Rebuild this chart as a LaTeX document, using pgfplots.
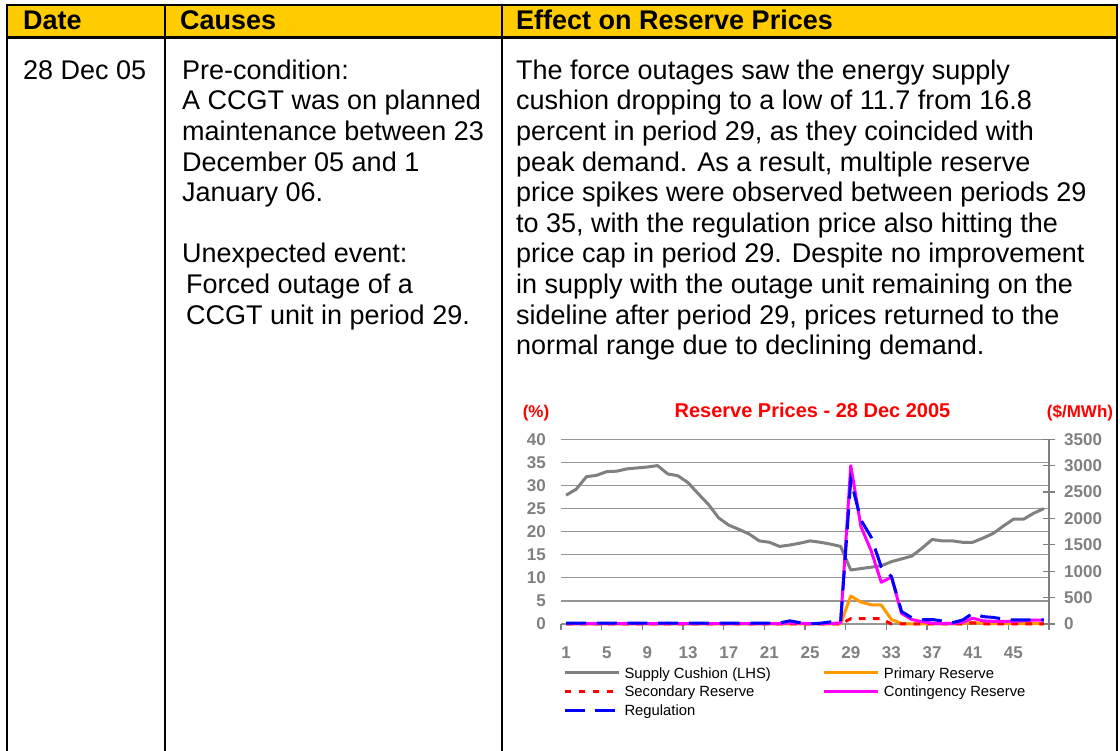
\documentclass[border=0pt]{standalone}
\usepackage{fontspec}
\setmainfont{Liberation Sans}
\usepackage{pgfplots}
\usepackage{pgfplotstable}
\pgfplotsset{compat=1.18}
\definecolor{hdr}{RGB}{255,204,0}
\definecolor{axgray}{RGB}{128,128,128}
\definecolor{gridgray}{RGB}{150,150,150}
\definecolor{cushion}{RGB}{128,128,128}
\definecolor{primary}{RGB}{255,153,0}
\definecolor{secondary}{RGB}{255,0,0}
\definecolor{contingency}{RGB}{255,0,255}
\definecolor{regulation}{RGB}{0,0,255}

\pgfplotstableread{
p cushion
1 27.9
2 29.2
3 31.9
4 32.2
5 33.0
6 33.1
7 33.6
8 33.8
9 34.0
10 34.3
11 32.5
12 32.1
13 30.6
14 28.2
15 25.9
16 23.0
17 21.4
18 20.5
19 19.5
20 18.0
21 17.7
22 16.8
23 17.1
24 17.5
25 18.0
26 17.7
27 17.3
28 16.8
29 11.7
30 12.0
31 12.3
32 12.6
33 13.5
34 14.1
35 14.7
36 16.4
37 18.3
38 18.0
39 18.0
40 17.7
41 17.7
42 18.6
43 19.6
44 21.2
45 22.7
46 22.7
47 24.0
48 25.0
}\cushiontable

\pgfplotstableread{
p pri sec con reg
1 0 0 5 15
2 0 0 5 15
3 0 0 5 15
4 0 0 5 15
5 0 0 5 15
6 0 0 5 15
7 0 0 5 15
8 0 0 5 15
9 0 0 5 15
10 0 0 5 15
11 0 0 5 15
12 0 0 5 15
13 0 0 5 15
14 0 0 5 15
15 0 0 5 15
16 0 0 5 15
17 0 0 5 15
18 0 0 5 15
19 0 0 5 15
20 0 0 5 15
21 0 0 5 15
22 0 0 5 20
23 0 0 20 60
24 0 0 15 25
25 0 0 5 5
26 0 0 5 15
27 0 0 10 40
28 0 0 20 30
29 530 100 3000 2730
30 415 100 1845 1970
31 365 100 1390 1650
32 360 100 790 1085
33 85 0 890 900
34 10 0 200 235
35 0 0 85 120
36 0 0 45 80
37 0 0 15 85
38 0 0 10 57
39 0 0 10 25
40 5 5 30 76
41 30 20 110 202
42 10 5 60 140
43 5 0 50 125
44 5 0 50 95
45 5 0 50 76
46 5 0 60 76
47 5 0 75 76
48 5 0 75 80
}\pricetable

\begin{document}
\begin{tikzpicture}
\useasboundingbox (0,0) rectangle (1120bp,751bp);
\begin{scope}[x=1bp,y=-1bp,yshift=751bp]
  % header fill
  \fill[hdr] (7,5) rectangle (1117,37.5);
  % borders
  \draw[black,line width=2.2bp] (7,5) -- (1117,5);
  \draw[black,line width=2.2bp] (7,37.5) -- (1117,37.5);
  \draw[black,line width=2.2bp] (7,3.9) -- (7,751);
  \draw[black,line width=2.2bp] (165,5) -- (165,751);
  \draw[black,line width=2.2bp] (502,5) -- (502,751);
  \draw[black,line width=2.2bp] (1117,3.9) -- (1117,751);
  % header text
  \begin{scope}[every node/.style={anchor=base west,inner sep=0pt,font=\fontsize{27bp}{30bp}\selectfont\bfseries}]
    \node at (23,29.3) {Date};
    \node at (180,29.3) {Causes};
    \node at (516,29.3) {Effect on Reserve Prices};
  \end{scope}
  % body text
  \begin{scope}[every node/.style={anchor=base west,inner sep=0pt,font=\fontsize{27bp}{30bp}\selectfont}]
    \node at (23,79.3) {28 Dec 05};
    \node at (182,79.3) {Pre-condition:};
    \node at (182,109.9) {A CCGT was on planned};
    \node at (182,140.5) {maintenance between 23};
    \node at (182,171.1) {December 05 and 1};
    \node at (182,201.7) {January 06.};
    \node at (182,262.9) {Unexpected event:};
    \node at (186,293.5) {Forced outage of a};
    \node at (186,324.1) {CCGT unit in period 29.};
    \node at (516,79.3) {The force outages saw the energy supply};
    \node at (516,109.9) {cushion dropping to a low of 11.7 from 16.8};
    \node at (516,140.5) {percent in period 29, as they coincided with};
    \node at (516,171.1) {peak demand. As a result, multiple reserve};
    \node at (516,201.7) {price spikes were observed between periods 29};
    \node at (516,232.3) {to 35, with the regulation price also hitting the};
    \node at (516,262.9) {price cap in period 29. Despite no improvement};
    \node at (516,293.5) {in supply with the outage unit remaining on the};
    \node at (516,324.1) {sideline after period 29, prices returned to the};
    \node at (516,354.7) {normal range due to declining demand.};
  \end{scope}
  % chart titles
  \begin{scope}[every node/.style={anchor=base,inner sep=0pt,text=red}]
    \node[font=\fontsize{20bp}{22bp}\selectfont\bfseries] at (812.5,417.7) {Reserve Prices - 28 Dec 2005};
    \node[font=\fontsize{17bp}{19bp}\selectfont\bfseries] at (536,417.7) {(\%)};
    \node[font=\fontsize{17bp}{19bp}\selectfont\bfseries] at (1080,417.7) {(\$/MWh)};
  \end{scope}
\end{scope}

\pgfplotsset{
  chartbase/.style={
    scale only axis, width=488bp, height=184.7bp,
    at={(561bp,127bp)}, anchor=south west,
    xmin=0.5, xmax=48.5, clip=false,
    /pgf/number format/assume math mode=true,
    /pgf/number format/1000 sep={},
    tick label style={font=\fontsize{17bp}{19bp}\selectfont\bfseries, text=axgray, inner sep=0pt},
  }
}

\begin{axis}[chartbase,
  ymin=0, ymax=40,
  axis line style={draw=none},
  xtick pos=bottom, ytick pos=left,
  ytick={0,5,...,40},
  ymajorgrids, grid style={draw=gridgray, line width=1.3bp},
  ytick style={draw=none},
  yticklabel style={anchor=east, xshift=-9bp},
  xtick={0.5,4.5,...,48.5}, xticklabels={},
  tick align=outside, major tick length=6bp,
  xtick style={draw=axgray, line width=1.3bp},
  extra x ticks={1,5,...,45},
  extra x tick style={major tick length=0pt},
  xticklabel style={anchor=base, yshift=-34.5bp},
]
\addplot[cushion, line width=3bp, mark=none, line join=round] table[x=p,y=cushion]{\cushiontable};
\end{axis}

\begin{axis}[chartbase,
  ymin=0, ymax=3500,
  axis x line=none,
  axis y line*=right,
  axis line style={-, draw=axgray, line width=1.3bp},
  ytick={0,500,...,3500},
  ytick style={draw=axgray, line width=1.3bp},
  tick align=center, major tick length=12bp,
  yticklabel style={anchor=west, xshift=9bp},
  legend columns=2,
  legend cell align=left,
  legend image code/.code={\draw[#1] (0bp,5.3bp) -- (54bp,5.3bp);},
  legend style={draw=none, fill=none, inner sep=0pt, outer sep=0pt,
    at={(0.0041,-0.2274)}, anchor=north west,
    font=\fontsize{14.8bp}{16bp}\selectfont,
    cells={anchor=base west},
    nodes={inner xsep=4.5bp, inner ysep=1bp, text height=11bp, text depth=3.5bp},
    column sep=0bp, row sep=2.2bp,
    /tikz/column 2/.style={column sep=47bp}},
]
\addlegendimage{cushion, line width=3bp}
\addlegendentry{Supply Cushion (LHS)}
\addplot[primary, line width=3bp, mark=none, line join=round] table[x=p,y=pri]{\pricetable};
\addlegendentry{Primary Reserve}
\addplot[secondary, line width=3bp, mark=none, dash pattern=on 6.7bp off 7.3bp] table[x=p,y=sec]{\pricetable};
\addlegendentry{Secondary Reserve}
\addplot[contingency, line width=3bp, mark=none, line join=round] table[x=p,y=con]{\pricetable};
\addlegendentry{Contingency Reserve}
\addplot[regulation, line width=3bp, mark=none, dash pattern=on 20bp off 10.7bp] table[x=p,y=reg]{\pricetable};
\addlegendentry{Regulation}
\end{axis}
\end{tikzpicture}
\end{document}
